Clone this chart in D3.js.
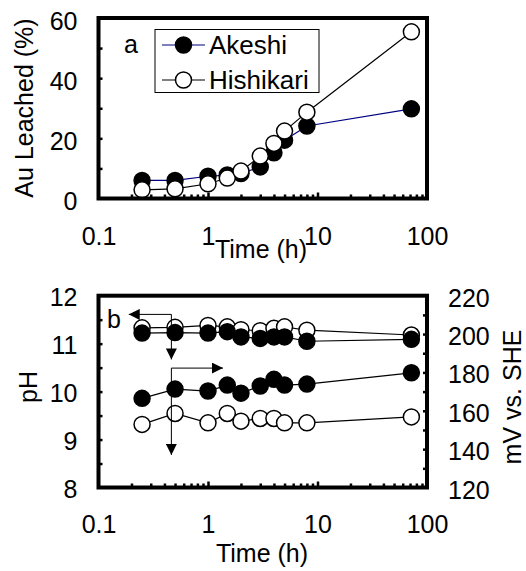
<!DOCTYPE html>
<html>
<head>
<meta charset="utf-8">
<script src="https://cdn.jsdelivr.net/npm/d3@7"></script>
<style>
  html, body { margin: 0; padding: 0; background: #fff; }
  svg { display: block; font-family: "Liberation Sans", Arial, sans-serif; }
</style>
</head>
<body>
<svg id="chart" width="526" height="571"></svg>
<script>
// ---------------- data ----------------
const times = [0.25, 0.5, 1, 1.5, 2, 3, 4, 5, 8, 72];
const akeshiAu = [6.0, 6.0, 7.4, 7.8, 8.3, 10.5, 15.2, 19.4, 24.1, 29.8];
const hishikariAu = [2.9, 3.2, 4.9, 6.8, 9.1, 14.1, 18.3, 22.4, 28.7, 55.4];
const akeshiPH = [11.22, 11.23, 11.22, 11.25, 11.14, 11.11, 11.14, 11.14, 11.05, 11.09];
const hishikariPH = [11.33, 11.34, 11.38, 11.35, 11.29, 11.27, 11.32, 11.35, 11.28, 11.18];
const akeshiMV = [166.5, 171.3, 170.3, 173.4, 169.2, 172.9, 176.4, 173.4, 173.9, 179.8];
const hishikariMV = [152.9, 158.6, 153.7, 158.6, 154.6, 156.0, 156.0, 153.7, 153.7, 156.8];

const seriesNames = ["Akeshi", "Hishikari"];
const xTickLabels = [0.1, 1, 10, 100];
const auTicks = [0, 20, 40, 60];
const auMinorTicks = [10, 20, 30, 40, 50];
const phTicks = [8, 9, 10, 11, 12];
const phMinorTicks = [8.5, 9, 9.5, 10, 10.5, 11, 11.5];
const mvTicks = [120, 140, 160, 180, 200, 220];
const mvMinorTicks = [130, 140, 150, 160, 170, 180, 190, 200, 210];
const xMinorTicks = [0.2,0.3,0.4,0.5,0.6,0.7,0.8,0.9,2,3,4,5,6,7,8,9,20,30,40,50,60,70,80,90];
const xMajorTicks = [1, 10];
// annotation arrows in data coordinates (time, pH)
const arrowPH = [[0.189, 11.61], [0.463, 11.61], [0.463, 10.67]];
const arrowMV = [[1.371, 10.49], [0.463, 10.49], [0.463, 8.68]];

// ---------------- setup ----------------
const svg = d3.select("#chart");
const FONT = 25;
const colAkeshiTop = "#000080";

const defs = svg.append("defs");
defs.append("marker").attr("id", "ah").attr("viewBox", "0 0 10 10")
  .attr("refX", 10).attr("refY", 5).attr("markerWidth", 11).attr("markerHeight", 11)
  .attr("markerUnits", "userSpaceOnUse").attr("orient", "auto")
  .append("path").attr("d", "M0,0 L10,5 L0,10 Z").attr("fill", "#000");
defs.append("marker").attr("id", "ahs").attr("viewBox", "0 0 10 10")
  .attr("refX", 0).attr("refY", 5).attr("markerWidth", 11).attr("markerHeight", 11)
  .attr("markerUnits", "userSpaceOnUse").attr("orient", "auto")
  .append("path").attr("d", "M10,0 L0,5 L10,10 Z").attr("fill", "#000");

function styleAxis(g) {
  g.select(".domain").remove();
  g.selectAll("line").attr("stroke", "#000").attr("stroke-width", 2.5);
  g.selectAll("text").attr("font-size", FONT).attr("fill", "#000")
    .attr("font-family", "'Liberation Sans', Arial, sans-serif");
}

function drawXAxis(x, yBase, labelPad) {
  svg.append("g").attr("transform", `translate(0,${yBase})`)
    .call(d3.axisBottom(x).tickValues(xMinorTicks).tickSize(-4).tickFormat(""))
    .call(styleAxis);
  svg.append("g").attr("transform", `translate(0,${yBase})`)
    .call(d3.axisBottom(x).tickValues(xMajorTicks).tickSize(-6).tickFormat(""))
    .call(styleAxis);
  svg.append("g").attr("transform", `translate(0,${yBase})`)
    .call(d3.axisBottom(x).tickValues(xTickLabels).tickSize(0).tickPadding(labelPad)
      .tickFormat(d => String(d)))
    .call(styleAxis);
}

function drawSeries(g, x, y, ys, filled, color) {
  const pts = times.map((t, i) => [t, ys[i]]);
  g.append("path").datum(pts)
    .attr("d", d3.line().x(d => x(d[0])).y(d => y(d[1])))
    .attr("fill", "none").attr("stroke", color).attr("stroke-width", 1.2);
  g.selectAll(null).data(pts).enter().append("circle")
    .attr("cx", d => x(d[0])).attr("cy", d => y(d[1])).attr("r", 8)
    .attr("fill", filled ? "#000" : "#fff")
    .attr("stroke", "#000").attr("stroke-width", 1.5);
}

// ---------------- top chart (a) ----------------
const xA = d3.scaleLog().domain([0.1, 100]).range([98.5, 427]);
const yA = d3.scaleLinear().domain([0, 60]).range([198.5, 18]);

drawXAxis(xA, yA(0), 28.5);
svg.append("g").attr("transform", `translate(${xA(0.1)},0)`)
  .call(d3.axisLeft(yA).tickValues(auMinorTicks).tickSize(-4).tickFormat(""))
  .call(styleAxis);
svg.append("g").attr("transform", `translate(${xA(0.1)},0)`)
  .call(d3.axisLeft(yA).tickValues(auTicks).tickSize(0).tickPadding(21).tickFormat(d3.format("d")))
  .call(styleAxis)
  .call(g => g.selectAll("text").attr("dy", "0.44em"));

const gA = svg.append("g");
drawSeries(gA, xA, yA, akeshiAu, true, colAkeshiTop);
drawSeries(gA, xA, yA, hishikariAu, false, "#000");

svg.append("rect").attr("x", xA(0.1)).attr("y", yA(60))
  .attr("width", xA(100) - xA(0.1)).attr("height", yA(0) - yA(60))
  .attr("fill", "none").attr("stroke", "#000").attr("stroke-width", 4);

svg.append("text").attr("x", 124).attr("y", 53).attr("font-size", FONT).text("a");

// legend
const leg = svg.append("g");
leg.append("rect").attr("x", 155).attr("y", 29.5).attr("width", 164).attr("height", 63)
  .attr("fill", "#fff").attr("stroke", "#000").attr("stroke-width", 1);
[[seriesNames[0], 45, true, colAkeshiTop], [seriesNames[1], 80, false, "#000"]].forEach(([name, ly, filled, col]) => {
  leg.append("line").attr("x1", 162).attr("x2", 205).attr("y1", ly).attr("y2", ly)
    .attr("stroke", col).attr("stroke-width", 1.2);
  leg.append("circle").attr("cx", 183.5).attr("cy", ly).attr("r", 8)
    .attr("fill", filled ? "#000" : "#fff").attr("stroke", "#000").attr("stroke-width", 1.5);
  leg.append("text").attr("x", 209).attr("y", ly + 9).attr("font-size", 26).text(name);
});

svg.append("text").attr("text-anchor", "middle").attr("x", 261).attr("y", 258)
  .attr("font-size", FONT).text("Time (h)");
svg.append("text").attr("text-anchor", "middle")
  .attr("transform", "translate(33,108) rotate(-90)")
  .attr("font-size", FONT).text("Au Leached (%)");

// ---------------- bottom chart (b) ----------------
const xB = d3.scaleLog().domain([0.1, 100]).range([98.5, 427]);
const yPH = d3.scaleLinear().domain([8, 12]).range([487.5, 295.7]);
const yMV = d3.scaleLinear().domain([120, 220]).range([487.5, 295.7]);

drawXAxis(xB, yPH(8), 28);
svg.append("g").attr("transform", `translate(${xB(0.1)},0)`)
  .call(d3.axisLeft(yPH).tickValues(phMinorTicks).tickSize(-4).tickFormat(""))
  .call(styleAxis);
svg.append("g").attr("transform", `translate(${xB(0.1)},0)`)
  .call(d3.axisLeft(yPH).tickValues(phTicks).tickSize(0).tickPadding(21).tickFormat(d3.format("d")))
  .call(styleAxis)
  .call(g => g.selectAll("text").attr("dy", "0.4em"));
svg.append("g").attr("transform", `translate(${xB(100)},0)`)
  .call(d3.axisRight(yMV).tickValues(mvMinorTicks).tickSize(-4).tickFormat(""))
  .call(styleAxis);
svg.append("g").attr("transform", `translate(${xB(100)},0)`)
  .call(d3.axisRight(yMV).tickValues(mvTicks).tickSize(0).tickPadding(21).tickFormat(d3.format("d")))
  .call(styleAxis)
  .call(g => g.selectAll("text").attr("dy", "0.42em"));

const gB = svg.append("g");
drawSeries(gB, xB, yPH, hishikariPH, false, "#000");
drawSeries(gB, xB, yPH, akeshiPH, true, "#000");
drawSeries(gB, xB, yMV, akeshiMV, true, "#000");
drawSeries(gB, xB, yMV, hishikariMV, false, "#000");

// annotation arrows
const arrowLine = d3.line().x(d => xB(d[0])).y(d => yPH(d[1]));
[arrowPH, arrowMV].forEach(a => {
  svg.append("path").datum(a).attr("d", arrowLine)
    .attr("fill", "none").attr("stroke", "#000").attr("stroke-width", 1)
    .attr("marker-start", "url(#ahs)").attr("marker-end", "url(#ah)");
});

svg.append("rect").attr("x", xB(0.1)).attr("y", yPH(12))
  .attr("width", xB(100) - xB(0.1)).attr("height", yPH(8) - yPH(12))
  .attr("fill", "none").attr("stroke", "#000").attr("stroke-width", 4);

svg.append("text").attr("x", 107).attr("y", 328).attr("font-size", FONT).text("b");

svg.append("text").attr("text-anchor", "middle").attr("x", 262).attr("y", 562)
  .attr("font-size", FONT).text("Time (h)");
svg.append("text").attr("text-anchor", "middle")
  .attr("transform", "translate(37,387) rotate(-90)")
  .attr("font-size", FONT).text("pH");
svg.append("text").attr("text-anchor", "middle")
  .attr("transform", "translate(521,397) rotate(-90)")
  .attr("font-size", FONT).text("mV vs. SHE");
</script>
</body>
</html>
